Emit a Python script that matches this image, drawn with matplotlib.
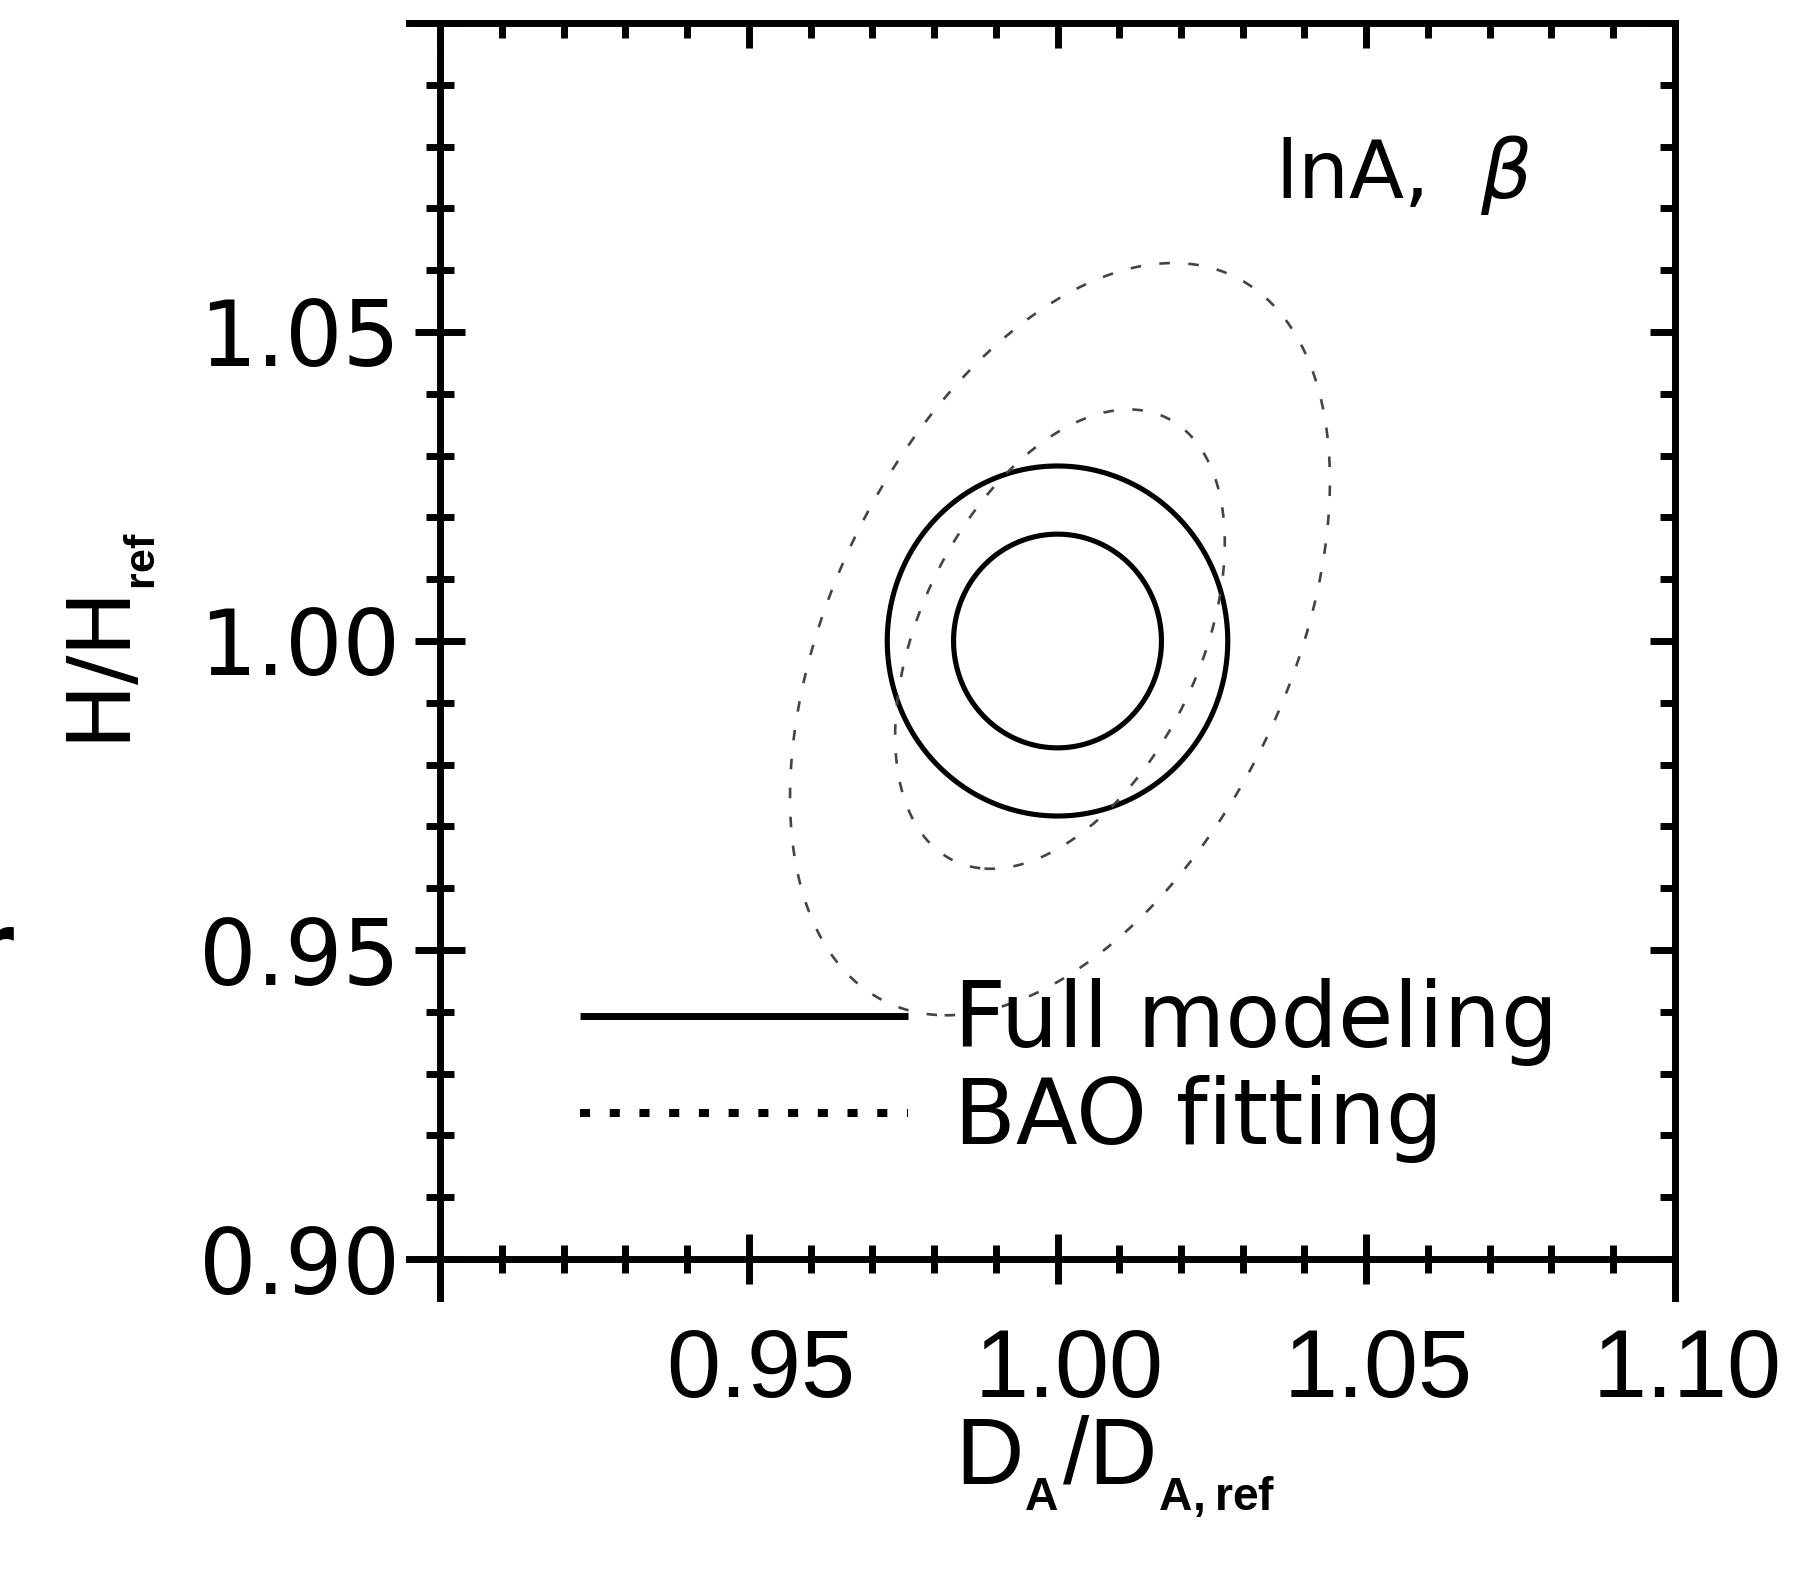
import numpy as np
import matplotlib
matplotlib.use("Agg")
import matplotlib.pyplot as plt
from matplotlib.lines import Line2D
from matplotlib.ticker import MultipleLocator
from matplotlib.transforms import ScaledTranslation

# ---------------- data ----------------
x_range = [0.90, 1.10]
y_range = [0.90, 1.10]
x_major = [0.90, 0.95, 1.00, 1.05, 1.10]
x_labels = ["", "0.95", "1.00", "1.05", "1.10"]
y_major = [0.90, 0.95, 1.00, 1.05, 1.10]
y_labels = ["0.90", "0.95", "1.00", "1.05", ""]
minor_step = 0.01

methods = ["Full modeling", "BAO fitting"]
center_x = [1.000, 1.0004]
center_y = [1.000, 1.0003]
sigma_x = [0.0111, 0.0176]
sigma_y = [0.0114, 0.0245]
corr = [0.0, 0.42]
delta_chi2 = [2.30, 6.17]          # 1-sigma and 2-sigma levels
panel_label = r"lnA,  $\beta$"
x_title = r"D$_{_{\mathbf{A}}}$/D$_{_{\mathbf{A,ref}}}$"
y_title = r"H/H$_{_{\mathbf{ref}}}$"

# ---------------- style ----------------
plt.rcParams["font.family"] = ["DejaVu Sans"]
plt.rcParams["mathtext.fontset"] = "custom"
plt.rcParams["mathtext.rm"] = "Liberation Sans"
plt.rcParams["mathtext.bf"] = "Liberation Sans:bold"
plt.rcParams["mathtext.it"] = "DejaVu Sans:italic"

W, H = 1802, 1573
fig = plt.figure(figsize=(W / 100, H / 100), dpi=100)
ax = fig.add_axes([0.2442, 0.1996, 0.6853, 0.7858])
ax.set_xlim(*x_range)
ax.set_ylim(*y_range)

# ---------------- contours ----------------
gx = np.linspace(x_range[0], x_range[1], 801)
gy = np.linspace(y_range[0], y_range[1], 801)
GX, GY = np.meshgrid(gx, gy)
styles = [
    dict(colors="black", linewidths=3.7),
    dict(colors="#444444", linewidths=1.9),
]
for i in range(len(methods)):
    dx = (GX - center_x[i]) / sigma_x[i]
    dy = (GY - center_y[i]) / sigma_y[i]
    r = corr[i]
    chi2 = (dx ** 2 - 2 * r * dx * dy + dy ** 2) / (1 - r ** 2)
    cs = ax.contour(GX, GY, chi2, levels=delta_chi2, **styles[i])
    if i == 1:
        cs.set_linestyle((0, (4.0, 7.0)))

# ---------------- axes frame / ticks ----------------
for s in ax.spines.values():
    s.set_linewidth(5)
ax.spines["left"].set_bounds(0.8937, 1.10)
ax.spines["right"].set_bounds(0.8937, 1.10)
ax.spines["bottom"].set_bounds(0.895, 1.10)
ax.spines["top"].set_bounds(0.895, 1.10)

ax.set_xticks(x_major)
ax.set_yticks(y_major)
ax.xaxis.set_minor_locator(MultipleLocator(minor_step))
ax.yaxis.set_minor_locator(MultipleLocator(minor_step))
ax.tick_params(which="major", direction="inout", length=36, width=5,
               top=False, right=False)
ax.tick_params(which="minor", direction="inout", length=20, width=5,
               top=False, right=False)
ax.tick_params(axis="x", which="major", pad=31)
ax.tick_params(axis="y", which="major", pad=11)
ax.set_xticklabels(x_labels, fontfamily="Liberation Sans", fontsize=70)
ax.set_yticklabels(y_labels, fontfamily="DejaVu Sans", fontsize=65)
shift = ScaledTranslation(12 / 100, 0, fig.dpi_scale_trans)
for lab in ax.get_xticklabels():
    lab.set_transform(lab.get_transform() + shift)

top = ax.secondary_xaxis("top")
top.set_xticks(x_major)
top.xaxis.set_minor_locator(MultipleLocator(minor_step))
top.tick_params(which="major", direction="in", length=18, width=5, labeltop=False)
top.tick_params(which="minor", direction="in", length=10.5, width=5)
top.spines["top"].set_visible(False)

right = ax.secondary_yaxis("right")
right.set_yticks(y_major)
right.yaxis.set_minor_locator(MultipleLocator(minor_step))
right.tick_params(which="major", direction="in", length=18, width=5, labelright=False)
right.tick_params(which="minor", direction="in", length=10.5, width=5)
right.spines["right"].set_visible(False)

ax.set_xlabel(x_title, fontfamily="Liberation Sans", fontsize=68)
ax.xaxis.set_label_coords(0.547, -0.125)
ax.set_ylabel(y_title, fontfamily="DejaVu Sans", fontsize=63, labelpad=30)

# ---------------- annotations ----------------
ax.text(0.676, 0.858, panel_label, transform=ax.transAxes, ha="left",
        va="baseline", fontsize=58)

handles = [
    Line2D([], [], color="black", lw=5, solid_capstyle="butt"),
    Line2D([], [], color="black", lw=5.8, linestyle=(0, (1.25, 2.44)),
           dash_capstyle="butt"),
]
leg = ax.legend(handles, methods, loc="center left",
                bbox_to_anchor=(0.1136, 0.1523), borderaxespad=0, borderpad=0,
                frameon=False, fontsize=65, handlelength=3.63,
                handletextpad=0.51, labelspacing=0.1)

# clipped fragment of a neighbouring panel's label
fig.text(14 / W, 1 - 974 / H, "r", fontsize=60, fontweight="bold",
         ha="right", va="baseline")

fig.savefig("out.png", dpi=100)
